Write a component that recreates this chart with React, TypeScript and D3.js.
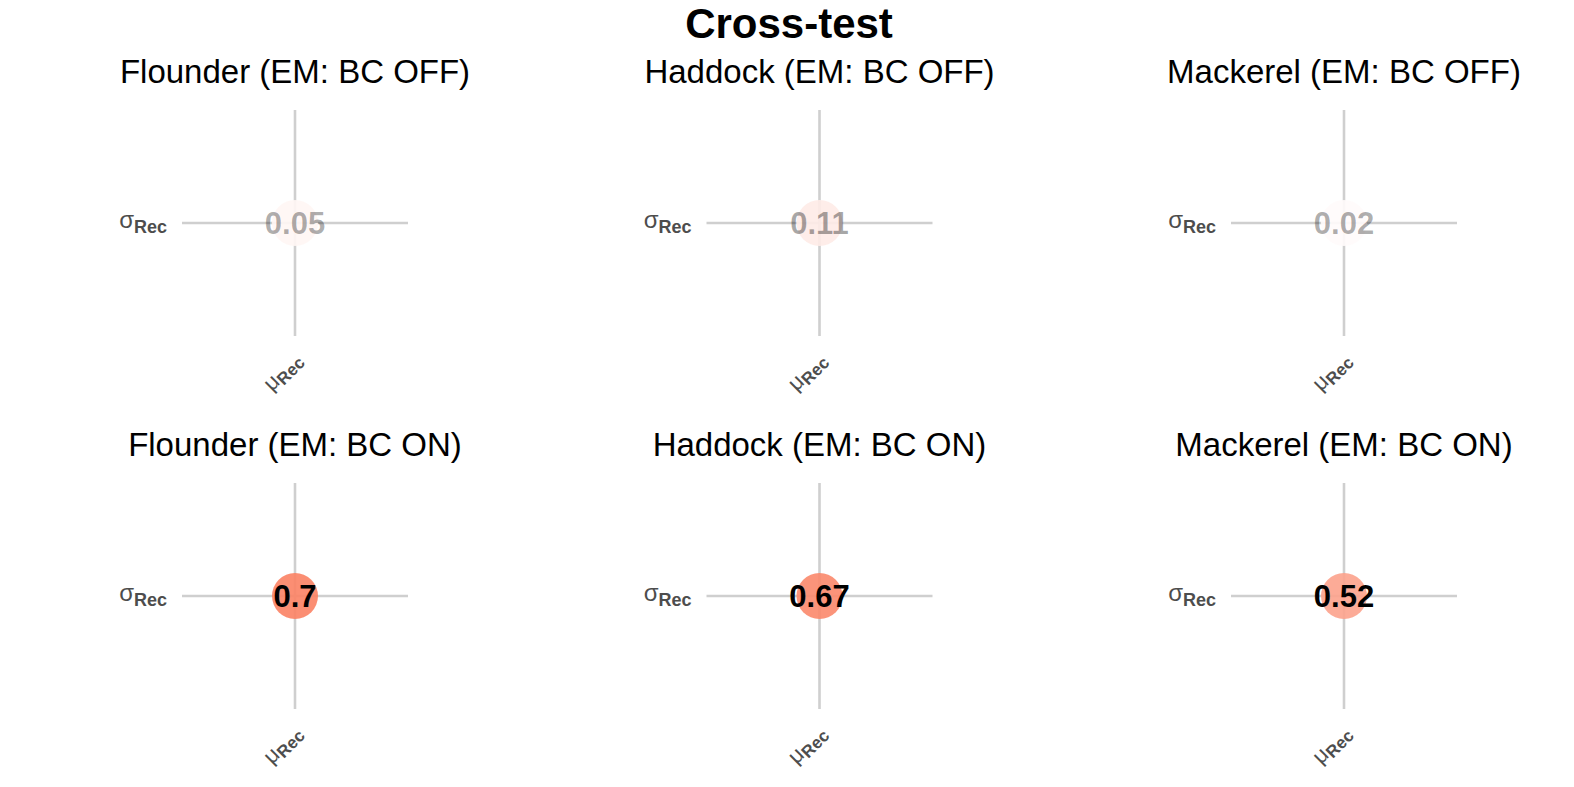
import React from 'react';
import * as d3 from 'd3';

// Cross-test: one correlation cell per species and EM setting
const species = ['Flounder', 'Haddock', 'Mackerel'];
const emSettings = ['BC OFF', 'BC ON'];
const offValues = [0.05, 0.11, 0.02];
const onValues = [0.7, 0.67, 0.52];
const xCategories = ['muRec'];
const yCategories = ['sigmaRec'];

const W = 1574;
const H = 787;
const FONT = '"Liberation Sans", Arial, Helvetica, sans-serif';

const App: React.FC = () => {
  // Panel centres
  const colX = d3.scalePoint<string>().domain(species).range([295, 1344]);
  const rowY = d3.scalePoint<string>().domain(emSettings).range([223, 596]);

  // Inside one panel (226 x 226, centred)
  const half = 113;
  const x = d3.scalePoint<string>().domain(xCategories).range([-half, half]).padding(0.5);
  const y = d3.scalePoint<string>().domain(yCategories).range([-half, half]).padding(0.5);

  const fill = d3.scaleLinear<string>().domain([0, 1]).range(['#ffffff', '#f94d22']).interpolate(d3.interpolateRgb);
  const textAlpha = d3.scaleLinear().domain([0.1, 0.5]).range([0.33, 1]).clamp(true);

  const cells = emSettings.flatMap((em, r) =>
    species.map((sp, c) => ({
      species: sp,
      em,
      value: (r === 0 ? offValues : onValues)[c],
    }))
  );

  return (
    <svg
      width={W}
      height={H}
      style={{ position: 'absolute', left: 0, top: 0, background: '#fff' }}
      fontFamily={FONT}
    >
      <text x={W / 2 + 2} y={38} textAnchor="middle" fontSize={42} fontWeight="bold" fill="#000">
        Cross-test
      </text>

      {cells.map((d) => {
        const cx = colX(d.species) || 0;
        const cy = rowY(d.em) || 0;
        const px = x('muRec') || 0;
        const py = y('sigmaRec') || 0;
        return (
          <g key={d.species + d.em} transform={`translate(${cx},${cy})`}>
            <text x={0} y={-140} textAnchor="middle" fontSize={33} fill="#000">
              {`${d.species} (EM: ${d.em})`}
            </text>

            {/* grid lines */}
            <line x1={-half} x2={half} y1={py} y2={py} stroke="#cfcfcf" strokeWidth={2.6} />
            <line x1={px} x2={px} y1={-half} y2={half} stroke="#cfcfcf" strokeWidth={2.6} />

            {/* y axis label */}
            <text x={-128} y={py + 5} textAnchor="end" fill="#4d4d4d">
              <tspan fontSize={24}>σ</tspan>
              <tspan fontSize={18} fontWeight="bold" dy={4.5}>Rec</tspan>
            </text>

            {/* x axis label, rotated */}
            <text
              transform={`translate(${px + 8},${half + 25}) rotate(-45)`}
              textAnchor="end"
              fill="#4d4d4d"
            >
              <tspan fontSize={22}>μ</tspan>
              <tspan fontSize={17} fontWeight="bold" dy={4}>Rec</tspan>
            </text>

            <circle cx={px} cy={py} r={23} fill={fill(d.value)} fillOpacity={0.9} />
            <text
              x={px}
              y={py}
              dy="0.36em"
              textAnchor="middle"
              fontSize={31}
              fontWeight="bold"
              fill="#000"
              fillOpacity={textAlpha(d.value)}
            >
              {d.value}
            </text>
          </g>
        );
      })}
    </svg>
  );
};

export default App;
